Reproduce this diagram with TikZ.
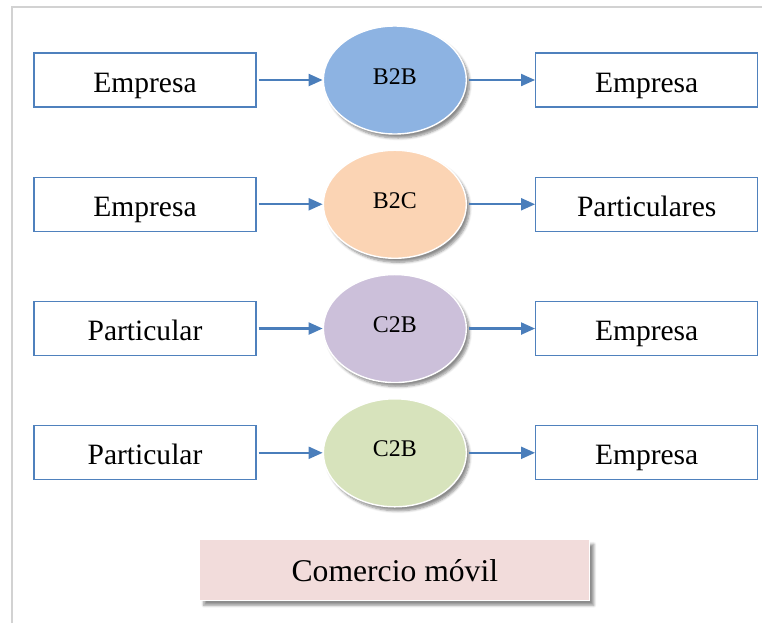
\documentclass[tikz,border=0pt]{standalone}
\usepackage{fontspec}
\setmainfont{Liberation Serif}
\usetikzlibrary{positioning, arrows.meta, shapes.geometric, shadows.blur}
\definecolor{boxline}{HTML}{4F81BD}
\definecolor{arrowblue}{HTML}{4A7EBB}
\definecolor{bblue}{HTML}{8DB3E2}
\definecolor{bpeach}{HTML}{FBD4B4}
\definecolor{blila}{HTML}{CCC0DA}
\definecolor{bgreen}{HTML}{D7E3BC}
\definecolor{bpink}{HTML}{F2DCDB}

\begin{document}
\begin{tikzpicture}[
        node distance=1.725cm,
        box/.style={rectangle, draw=boxline, line width=0.9pt, fill=white, minimum width=5.55cm, minimum height=1.35cm, text height=0.7cm, text depth=0.1cm, font=\fontsize{21}{25}\selectfont},
        tipo/.style={ellipse, draw=white, line width=1pt, minimum width=3.575cm, minimum height=2.7cm, inner sep=0pt, text height=0.4cm, text depth=0.2cm, font=\fontsize{17}{20}\selectfont, blur shadow={shadow xshift=0.08cm, shadow yshift=-0.1cm, shadow blur steps=6, shadow opacity=45}},
        arrow/.style={-{Triangle[length=0.35cm, width=0.3cm]}, line width=1.5pt, draw=arrowblue, shorten <=0.05cm}
    ]
        \useasboundingbox (0,0) rectangle (19.05,-15.575);
        % Frame
        \draw [gray!35, line width=1.2pt] (0.3,-15.575) |- (19.05,-0.175);

        % Nodes
        \node (emp1) [box] at (3.625,-2.0) {Empresa};
        \node (b2b) [tipo, fill=bblue, right=1.65cm of emp1] {B2B};
        \node (emp2) [box, right=1.7cm of b2b] {Empresa};

        \node (emp3) [box, below=of emp1] {Empresa};
        \node (b2c) [tipo, fill=bpeach, right=1.65cm of emp3] {B2C};
        \node (part1) [box, right=1.7cm of b2c] {Particulares};

        \node (part2) [box, below=of emp3] {Particular};
        \node (c2b) [tipo, fill=blila, right=1.65cm of part2] {C2B};
        \node (emp4) [box, right=1.7cm of c2b] {Empresa};

        \node (part3) [box, below=of part2] {Particular};
        \node (c2bb) [tipo, fill=bgreen, right=1.65cm of part3] {C2B};
        \node (emp5) [box, right=1.7cm of c2bb] {Empresa};

        \node (movil) [rectangle, draw=white, line width=0.8pt, fill=bpink, minimum width=9.75cm, minimum height=1.525cm, text height=0.7cm, text depth=0.1cm, font=\fontsize{22.5}{27}\selectfont, blur shadow={shadow xshift=0.1cm, shadow yshift=-0.13cm, shadow blur steps=6, shadow opacity=45}, below=0.775cm of c2bb] {Comercio móvil};

        % Arrows
        \draw [arrow] (emp1) -- (b2b);
        \draw [arrow] (b2b) -- (emp2);
        \draw [arrow] (emp3) -- (b2c);
        \draw [arrow] (b2c) -- (part1);
        \draw [arrow] (part2) -- (c2b);
        \draw [arrow] (c2b) -- (emp4);
        \draw [arrow] (part3) -- (c2bb);
        \draw [arrow] (c2bb) -- (emp5);
    \end{tikzpicture}
\end{document}
